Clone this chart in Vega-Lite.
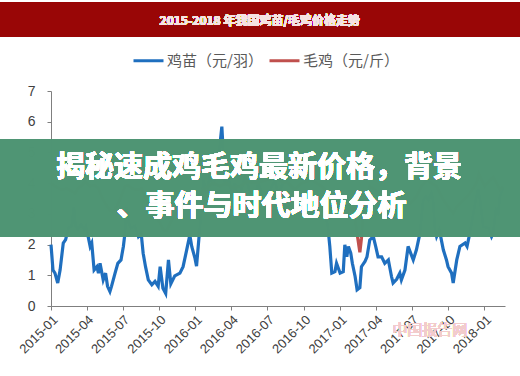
{
  "$schema": "https://vega.github.io/schema/vega-lite/v6.json",
  "width": 454,
  "height": 215,
  "autosize": {"type": "none"},
  "padding": {"left": 51, "top": 91, "right": 15, "bottom": 70},
  "background": "white",
  "config": {
    "font": "Noto Sans CJK SC",
    "view": {"stroke": null}
  },
  "data": {
    "values": [
      {"date": "2015-01-01", "series": "鸡苗（元/羽）", "price": 2.0},
      {"date": "2015-01-06", "series": "鸡苗（元/羽）", "price": 1.17},
      {"date": "2015-01-11", "series": "鸡苗（元/羽）", "price": 1.07},
      {"date": "2015-01-18", "series": "鸡苗（元/羽）", "price": 0.75},
      {"date": "2015-01-24", "series": "鸡苗（元/羽）", "price": 1.17},
      {"date": "2015-02-01", "series": "鸡苗（元/羽）", "price": 2.05},
      {"date": "2015-02-07", "series": "鸡苗（元/羽）", "price": 2.16},
      {"date": "2015-02-14", "series": "鸡苗（元/羽）", "price": 2.54},
      {"date": "2015-02-22", "series": "鸡苗（元/羽）", "price": 2.6},
      {"date": "2015-02-28", "series": "鸡苗（元/羽）", "price": 3.23},
      {"date": "2015-03-04", "series": "鸡苗（元/羽）", "price": 2.6},
      {"date": "2015-03-10", "series": "鸡苗（元/羽）", "price": 2.5},
      {"date": "2015-03-18", "series": "鸡苗（元/羽）", "price": 2.65},
      {"date": "2015-03-26", "series": "鸡苗（元/羽）", "price": 2.5},
      {"date": "2015-03-30", "series": "鸡苗（元/羽）", "price": 2.6},
      {"date": "2015-04-05", "series": "鸡苗（元/羽）", "price": 2.26},
      {"date": "2015-04-10", "series": "鸡苗（元/羽）", "price": 1.94},
      {"date": "2015-04-14", "series": "鸡苗（元/羽）", "price": 2.05},
      {"date": "2015-04-20", "series": "鸡苗（元/羽）", "price": 1.17},
      {"date": "2015-04-27", "series": "鸡苗（元/羽）", "price": 1.28},
      {"date": "2015-05-01", "series": "鸡苗（元/羽）", "price": 1.07},
      {"date": "2015-05-05", "series": "鸡苗（元/羽）", "price": 1.39},
      {"date": "2015-05-13", "series": "鸡苗（元/羽）", "price": 0.85},
      {"date": "2015-05-19", "series": "鸡苗（元/羽）", "price": 1.07},
      {"date": "2015-05-24", "series": "鸡苗（元/羽）", "price": 0.64},
      {"date": "2015-05-30", "series": "鸡苗（元/羽）", "price": 0.47},
      {"date": "2015-06-03", "series": "鸡苗（元/羽）", "price": 0.64},
      {"date": "2015-06-12", "series": "鸡苗（元/羽）", "price": 1.07},
      {"date": "2015-06-19", "series": "鸡苗（元/羽）", "price": 1.39},
      {"date": "2015-06-27", "series": "鸡苗（元/羽）", "price": 1.5},
      {"date": "2015-07-03", "series": "鸡苗（元/羽）", "price": 1.94},
      {"date": "2015-07-07", "series": "鸡苗（元/羽）", "price": 2.37},
      {"date": "2015-07-11", "series": "鸡苗（元/羽）", "price": 3.23},
      {"date": "2015-07-17", "series": "鸡苗（元/羽）", "price": 2.7},
      {"date": "2015-07-22", "series": "鸡苗（元/羽）", "price": 2.54},
      {"date": "2015-08-01", "series": "鸡苗（元/羽）", "price": 2.6},
      {"date": "2015-08-10", "series": "鸡苗（元/羽）", "price": 2.26},
      {"date": "2015-08-17", "series": "鸡苗（元/羽）", "price": 2.37},
      {"date": "2015-08-22", "series": "鸡苗（元/羽）", "price": 1.72},
      {"date": "2015-08-28", "series": "鸡苗（元/羽）", "price": 1.28},
      {"date": "2015-09-04", "series": "鸡苗（元/羽）", "price": 0.85},
      {"date": "2015-09-13", "series": "鸡苗（元/羽）", "price": 0.69},
      {"date": "2015-09-21", "series": "鸡苗（元/羽）", "price": 0.8},
      {"date": "2015-09-29", "series": "鸡苗（元/羽）", "price": 0.64},
      {"date": "2015-10-04", "series": "鸡苗（元/羽）", "price": 1.28},
      {"date": "2015-10-11", "series": "鸡苗（元/羽）", "price": 0.58},
      {"date": "2015-10-18", "series": "鸡苗（元/羽）", "price": 0.41},
      {"date": "2015-10-25", "series": "鸡苗（元/羽）", "price": 1.5},
      {"date": "2015-10-31", "series": "鸡苗（元/羽）", "price": 0.72},
      {"date": "2015-11-10", "series": "鸡苗（元/羽）", "price": 0.98},
      {"date": "2015-11-23", "series": "鸡苗（元/羽）", "price": 1.07},
      {"date": "2015-12-01", "series": "鸡苗（元/羽）", "price": 1.28},
      {"date": "2015-12-10", "series": "鸡苗（元/羽）", "price": 1.82},
      {"date": "2015-12-18", "series": "鸡苗（元/羽）", "price": 2.31},
      {"date": "2015-12-23", "series": "鸡苗（元/羽）", "price": 1.93},
      {"date": "2015-12-31", "series": "鸡苗（元/羽）", "price": 1.56},
      {"date": "2016-01-04", "series": "鸡苗（元/羽）", "price": 1.3},
      {"date": "2016-01-10", "series": "鸡苗（元/羽）", "price": 2.2},
      {"date": "2016-01-17", "series": "鸡苗（元/羽）", "price": 3.2},
      {"date": "2016-01-21", "series": "鸡苗（元/羽）", "price": 4.1},
      {"date": "2016-01-30", "series": "鸡苗（元/羽）", "price": 3.67},
      {"date": "2016-02-07", "series": "鸡苗（元/羽）", "price": 4.3},
      {"date": "2016-02-15", "series": "鸡苗（元/羽）", "price": 3.9},
      {"date": "2016-02-24", "series": "鸡苗（元/羽）", "price": 4.5},
      {"date": "2016-03-01", "series": "鸡苗（元/羽）", "price": 4.98},
      {"date": "2016-03-08", "series": "鸡苗（元/羽）", "price": 5.84},
      {"date": "2016-03-12", "series": "鸡苗（元/羽）", "price": 4.89},
      {"date": "2016-03-16", "series": "鸡苗（元/羽）", "price": 3.9},
      {"date": "2016-03-24", "series": "鸡苗（元/羽）", "price": 4.2},
      {"date": "2016-04-02", "series": "鸡苗（元/羽）", "price": 3.67},
      {"date": "2016-04-10", "series": "鸡苗（元/羽）", "price": 4.0},
      {"date": "2016-04-18", "series": "鸡苗（元/羽）", "price": 3.45},
      {"date": "2016-04-27", "series": "鸡苗（元/羽）", "price": 3.8},
      {"date": "2016-05-05", "series": "鸡苗（元/羽）", "price": 4.2},
      {"date": "2016-05-14", "series": "鸡苗（元/羽）", "price": 3.9},
      {"date": "2016-05-22", "series": "鸡苗（元/羽）", "price": 3.34},
      {"date": "2016-05-31", "series": "鸡苗（元/羽）", "price": 3.56},
      {"date": "2016-06-08", "series": "鸡苗（元/羽）", "price": 4.0},
      {"date": "2016-06-17", "series": "鸡苗（元/羽）", "price": 3.67},
      {"date": "2016-06-25", "series": "鸡苗（元/羽）", "price": 3.23},
      {"date": "2016-07-03", "series": "鸡苗（元/羽）", "price": 3.45},
      {"date": "2016-07-12", "series": "鸡苗（元/羽）", "price": 3.9},
      {"date": "2016-07-20", "series": "鸡苗（元/羽）", "price": 4.1},
      {"date": "2016-07-29", "series": "鸡苗（元/羽）", "price": 3.6},
      {"date": "2016-08-06", "series": "鸡苗（元/羽）", "price": 3.9},
      {"date": "2016-08-15", "series": "鸡苗（元/羽）", "price": 4.1},
      {"date": "2016-08-31", "series": "鸡苗（元/羽）", "price": 3.9},
      {"date": "2016-09-16", "series": "鸡苗（元/羽）", "price": 3.67},
      {"date": "2016-10-04", "series": "鸡苗（元/羽）", "price": 3.45},
      {"date": "2016-10-21", "series": "鸡苗（元/羽）", "price": 3.67},
      {"date": "2016-11-06", "series": "鸡苗（元/羽）", "price": 3.45},
      {"date": "2016-11-24", "series": "鸡苗（元/羽）", "price": 3.02},
      {"date": "2016-12-01", "series": "鸡苗（元/羽）", "price": 2.6},
      {"date": "2016-12-06", "series": "鸡苗（元/羽）", "price": 1.94},
      {"date": "2016-12-11", "series": "鸡苗（元/羽）", "price": 1.07},
      {"date": "2016-12-19", "series": "鸡苗（元/羽）", "price": 1.12},
      {"date": "2016-12-23", "series": "鸡苗（元/羽）", "price": 1.39},
      {"date": "2017-01-01", "series": "鸡苗（元/羽）", "price": 1.07},
      {"date": "2017-01-09", "series": "鸡苗（元/羽）", "price": 1.12},
      {"date": "2017-01-13", "series": "鸡苗（元/羽）", "price": 1.99},
      {"date": "2017-01-18", "series": "鸡苗（元/羽）", "price": 1.6},
      {"date": "2017-01-22", "series": "鸡苗（元/羽）", "price": 1.94},
      {"date": "2017-01-28", "series": "鸡苗（元/羽）", "price": 1.72},
      {"date": "2017-02-01", "series": "鸡苗（元/羽）", "price": 1.39},
      {"date": "2017-02-08", "series": "鸡苗（元/羽）", "price": 0.96},
      {"date": "2017-02-13", "series": "鸡苗（元/羽）", "price": 0.53},
      {"date": "2017-02-20", "series": "鸡苗（元/羽）", "price": 0.6},
      {"date": "2017-02-24", "series": "鸡苗（元/羽）", "price": 1.28},
      {"date": "2017-03-05", "series": "鸡苗（元/羽）", "price": 1.45},
      {"date": "2017-03-10", "series": "鸡苗（元/羽）", "price": 1.6},
      {"date": "2017-03-17", "series": "鸡苗（元/羽）", "price": 2.15},
      {"date": "2017-03-26", "series": "鸡苗（元/羽）", "price": 2.26},
      {"date": "2017-04-01", "series": "鸡苗（元/羽）", "price": 1.94},
      {"date": "2017-04-07", "series": "鸡苗（元/羽）", "price": 1.6},
      {"date": "2017-04-16", "series": "鸡苗（元/羽）", "price": 1.6},
      {"date": "2017-04-24", "series": "鸡苗（元/羽）", "price": 1.39},
      {"date": "2017-05-03", "series": "鸡苗（元/羽）", "price": 1.5},
      {"date": "2017-05-11", "series": "鸡苗（元/羽）", "price": 0.96},
      {"date": "2017-05-15", "series": "鸡苗（元/羽）", "price": 0.75},
      {"date": "2017-05-24", "series": "鸡苗（元/羽）", "price": 0.87},
      {"date": "2017-06-01", "series": "鸡苗（元/羽）", "price": 1.07},
      {"date": "2017-06-05", "series": "鸡苗（元/羽）", "price": 0.85},
      {"date": "2017-06-14", "series": "鸡苗（元/羽）", "price": 1.17},
      {"date": "2017-06-22", "series": "鸡苗（元/羽）", "price": 1.94},
      {"date": "2017-07-05", "series": "鸡苗（元/羽）", "price": 1.5},
      {"date": "2017-07-13", "series": "鸡苗（元/羽）", "price": 1.83},
      {"date": "2017-07-22", "series": "鸡苗（元/羽）", "price": 2.37},
      {"date": "2017-07-30", "series": "鸡苗（元/羽）", "price": 3.45},
      {"date": "2017-08-06", "series": "鸡苗（元/羽）", "price": 3.56},
      {"date": "2017-08-12", "series": "鸡苗（元/羽）", "price": 3.45},
      {"date": "2017-08-20", "series": "鸡苗（元/羽）", "price": 3.67},
      {"date": "2017-08-24", "series": "鸡苗（元/羽）", "price": 3.45},
      {"date": "2017-08-29", "series": "鸡苗（元/羽）", "price": 2.48},
      {"date": "2017-09-02", "series": "鸡苗（元/羽）", "price": 2.26},
      {"date": "2017-09-09", "series": "鸡苗（元/羽）", "price": 2.48},
      {"date": "2017-09-19", "series": "鸡苗（元/羽）", "price": 1.83},
      {"date": "2017-09-27", "series": "鸡苗（元/羽）", "price": 1.5},
      {"date": "2017-10-01", "series": "鸡苗（元/羽）", "price": 1.28},
      {"date": "2017-10-10", "series": "鸡苗（元/羽）", "price": 1.07},
      {"date": "2017-10-14", "series": "鸡苗（元/羽）", "price": 0.75},
      {"date": "2017-10-23", "series": "鸡苗（元/羽）", "price": 1.5},
      {"date": "2017-10-31", "series": "鸡苗（元/羽）", "price": 1.94},
      {"date": "2017-11-13", "series": "鸡苗（元/羽）", "price": 2.05},
      {"date": "2017-11-18", "series": "鸡苗（元/羽）", "price": 1.94},
      {"date": "2017-11-25", "series": "鸡苗（元/羽）", "price": 2.37},
      {"date": "2017-12-04", "series": "鸡苗（元/羽）", "price": 3.02},
      {"date": "2017-12-10", "series": "鸡苗（元/羽）", "price": 3.45},
      {"date": "2017-12-16", "series": "鸡苗（元/羽）", "price": 3.8},
      {"date": "2017-12-21", "series": "鸡苗（元/羽）", "price": 3.45},
      {"date": "2017-12-29", "series": "鸡苗（元/羽）", "price": 2.58},
      {"date": "2018-01-11", "series": "鸡苗（元/羽）", "price": 2.54},
      {"date": "2018-01-19", "series": "鸡苗（元/羽）", "price": 2.26},
      {"date": "2018-01-23", "series": "鸡苗（元/羽）", "price": 2.37},
      {"date": "2018-01-30", "series": "鸡苗（元/羽）", "price": 3.13},
      {"date": "2018-02-05", "series": "鸡苗（元/羽）", "price": 3.02},
      {"date": "2018-02-09", "series": "鸡苗（元/羽）", "price": 3.56},
      {"date": "2018-02-17", "series": "鸡苗（元/羽）", "price": 3.85},
      {"date": "2015-01-01", "series": "毛鸡（元/斤）", "price": 4.0},
      {"date": "2015-01-11", "series": "毛鸡（元/斤）", "price": 3.9},
      {"date": "2015-01-28", "series": "毛鸡（元/斤）", "price": 3.78},
      {"date": "2015-02-10", "series": "毛鸡（元/斤）", "price": 3.83},
      {"date": "2015-03-03", "series": "毛鸡（元/斤）", "price": 3.67},
      {"date": "2015-03-10", "series": "毛鸡（元/斤）", "price": 3.83},
      {"date": "2015-03-20", "series": "毛鸡（元/斤）", "price": 3.93},
      {"date": "2015-03-28", "series": "毛鸡（元/斤）", "price": 4.05},
      {"date": "2015-04-10", "series": "毛鸡（元/斤）", "price": 3.9},
      {"date": "2015-04-22", "series": "毛鸡（元/斤）", "price": 3.93},
      {"date": "2015-05-01", "series": "毛鸡（元/斤）", "price": 3.83},
      {"date": "2015-05-09", "series": "毛鸡（元/斤）", "price": 3.56},
      {"date": "2015-05-18", "series": "毛鸡（元/斤）", "price": 3.34},
      {"date": "2015-05-30", "series": "毛鸡（元/斤）", "price": 3.12},
      {"date": "2015-06-07", "series": "毛鸡（元/斤）", "price": 3.07},
      {"date": "2015-06-16", "series": "毛鸡（元/斤）", "price": 3.23},
      {"date": "2015-06-24", "series": "毛鸡（元/斤）", "price": 3.45},
      {"date": "2015-07-07", "series": "毛鸡（元/斤）", "price": 3.9},
      {"date": "2015-07-15", "series": "毛鸡（元/斤）", "price": 3.93},
      {"date": "2015-07-24", "series": "毛鸡（元/斤）", "price": 3.83},
      {"date": "2015-08-06", "series": "毛鸡（元/斤）", "price": 3.78},
      {"date": "2015-08-18", "series": "毛鸡（元/斤）", "price": 3.83},
      {"date": "2015-08-27", "series": "毛鸡（元/斤）", "price": 3.56},
      {"date": "2015-09-08", "series": "毛鸡（元/斤）", "price": 3.23},
      {"date": "2015-09-21", "series": "毛鸡（元/斤）", "price": 2.96},
      {"date": "2015-10-04", "series": "毛鸡（元/斤）", "price": 2.7},
      {"date": "2015-10-12", "series": "毛鸡（元/斤）", "price": 2.48},
      {"date": "2015-10-20", "series": "毛鸡（元/斤）", "price": 2.45},
      {"date": "2015-11-06", "series": "毛鸡（元/斤）", "price": 2.9},
      {"date": "2015-11-23", "series": "毛鸡（元/斤）", "price": 3.23},
      {"date": "2015-12-10", "series": "毛鸡（元/斤）", "price": 3.56},
      {"date": "2015-12-27", "series": "毛鸡（元/斤）", "price": 3.67},
      {"date": "2016-01-04", "series": "毛鸡（元/斤）", "price": 3.45},
      {"date": "2016-01-21", "series": "毛鸡（元/斤）", "price": 3.78},
      {"date": "2016-02-15", "series": "毛鸡（元/斤）", "price": 4.0},
      {"date": "2016-03-03", "series": "毛鸡（元/斤）", "price": 3.9},
      {"date": "2016-03-20", "series": "毛鸡（元/斤）", "price": 4.0},
      {"date": "2016-04-05", "series": "毛鸡（元/斤）", "price": 3.85},
      {"date": "2016-04-23", "series": "毛鸡（元/斤）", "price": 3.9},
      {"date": "2016-05-10", "series": "毛鸡（元/斤）", "price": 4.05},
      {"date": "2016-06-04", "series": "毛鸡（元/斤）", "price": 4.0},
      {"date": "2016-06-29", "series": "毛鸡（元/斤）", "price": 4.1},
      {"date": "2016-07-25", "series": "毛鸡（元/斤）", "price": 4.17},
      {"date": "2016-08-06", "series": "毛鸡（元/斤）", "price": 4.05},
      {"date": "2016-08-23", "series": "毛鸡（元/斤）", "price": 4.0},
      {"date": "2016-09-09", "series": "毛鸡（元/斤）", "price": 3.8},
      {"date": "2016-09-26", "series": "毛鸡（元/斤）", "price": 4.0},
      {"date": "2016-10-21", "series": "毛鸡（元/斤）", "price": 4.1},
      {"date": "2016-11-15", "series": "毛鸡（元/斤）", "price": 3.9},
      {"date": "2016-12-02", "series": "毛鸡（元/斤）", "price": 3.67},
      {"date": "2016-12-15", "series": "毛鸡（元/斤）", "price": 3.45},
      {"date": "2016-12-27", "series": "毛鸡（元/斤）", "price": 3.78},
      {"date": "2017-01-18", "series": "毛鸡（元/斤）", "price": 3.56},
      {"date": "2017-01-30", "series": "毛鸡（元/斤）", "price": 3.23},
      {"date": "2017-02-08", "series": "毛鸡（元/斤）", "price": 2.8},
      {"date": "2017-02-16", "series": "毛鸡（元/斤）", "price": 2.1},
      {"date": "2017-02-20", "series": "毛鸡（元/斤）", "price": 1.75},
      {"date": "2017-02-24", "series": "毛鸡（元/斤）", "price": 2.2},
      {"date": "2017-02-28", "series": "毛鸡（元/斤）", "price": 3.02},
      {"date": "2017-03-09", "series": "毛鸡（元/斤）", "price": 3.45},
      {"date": "2017-03-17", "series": "毛鸡（元/斤）", "price": 3.9},
      {"date": "2017-03-30", "series": "毛鸡（元/斤）", "price": 3.78},
      {"date": "2017-04-16", "series": "毛鸡（元/斤）", "price": 3.67},
      {"date": "2017-05-03", "series": "毛鸡（元/斤）", "price": 3.56},
      {"date": "2017-05-15", "series": "毛鸡（元/斤）", "price": 3.45},
      {"date": "2017-05-24", "series": "毛鸡（元/斤）", "price": 3.34},
      {"date": "2017-06-10", "series": "毛鸡（元/斤）", "price": 3.45},
      {"date": "2017-06-27", "series": "毛鸡（元/斤）", "price": 3.34},
      {"date": "2017-07-13", "series": "毛鸡（元/斤）", "price": 3.56},
      {"date": "2017-07-26", "series": "毛鸡（元/斤）", "price": 3.9},
      {"date": "2017-08-08", "series": "毛鸡（元/斤）", "price": 4.1},
      {"date": "2017-08-20", "series": "毛鸡（元/斤）", "price": 4.0},
      {"date": "2017-09-02", "series": "毛鸡（元/斤）", "price": 3.9},
      {"date": "2017-09-19", "series": "毛鸡（元/斤）", "price": 3.45},
      {"date": "2017-10-01", "series": "毛鸡（元/斤）", "price": 3.23},
      {"date": "2017-10-14", "series": "毛鸡（元/斤）", "price": 3.02},
      {"date": "2017-10-23", "series": "毛鸡（元/斤）", "price": 3.23},
      {"date": "2017-11-08", "series": "毛鸡（元/斤）", "price": 3.45},
      {"date": "2017-11-25", "series": "毛鸡（元/斤）", "price": 3.67},
      {"date": "2017-12-12", "series": "毛鸡（元/斤）", "price": 4.0},
      {"date": "2017-12-18", "series": "毛鸡（元/斤）", "price": 4.3},
      {"date": "2017-12-25", "series": "毛鸡（元/斤）", "price": 4.1},
      {"date": "2018-01-02", "series": "毛鸡（元/斤）", "price": 3.9},
      {"date": "2018-01-15", "series": "毛鸡（元/斤）", "price": 4.1},
      {"date": "2018-01-23", "series": "毛鸡（元/斤）", "price": 4.2},
      {"date": "2018-02-01", "series": "毛鸡（元/斤）", "price": 4.0},
      {"date": "2018-02-09", "series": "毛鸡（元/斤）", "price": 3.78},
      {"date": "2018-02-17", "series": "毛鸡（元/斤）", "price": 3.9}
    ]
  },
  "encoding": {
    "x": {
      "field": "date",
      "type": "temporal",
      "scale": {"domain": [{"year": 2015, "month": 1, "date": 1}, {"year": 2018, "month": 2, "date": 22}], "nice": false},
      "axis": {
        "title": null,
        "format": "%Y-%m",
        "values": [
          {"year": 2015, "month": 1, "date": 1}, {"year": 2015, "month": 4, "date": 1}, {"year": 2015, "month": 7, "date": 1}, {"year": 2015, "month": 10, "date": 1},
          {"year": 2016, "month": 1, "date": 1}, {"year": 2016, "month": 4, "date": 1}, {"year": 2016, "month": 7, "date": 1}, {"year": 2016, "month": 10, "date": 1},
          {"year": 2017, "month": 1, "date": 1}, {"year": 2017, "month": 4, "date": 1}, {"year": 2017, "month": 7, "date": 1}, {"year": 2017, "month": 10, "date": 1},
          {"year": 2018, "month": 1, "date": 1}
        ],
        "labelAngle": -45,
        "labelOverlap": false,
        "labelFontSize": 13,
        "labelColor": "#404040",
        "labelFont": "Liberation Sans",
        "domainColor": "#7f7f7f",
        "tickColor": "#7f7f7f",
        "tickSize": 4,
        "grid": false,
        "labelPadding": 3
      }
    },
    "y": {
      "field": "price",
      "type": "quantitative",
      "scale": {"domain": [0, 7], "nice": false},
      "axis": {
        "title": null,
        "values": [0, 1, 2, 3, 4, 5, 6, 7],
        "labelFontSize": 14,
        "labelColor": "#404040",
        "labelFont": "Liberation Sans",
        "domainColor": "#7f7f7f",
        "tickColor": "#7f7f7f",
        "tickSize": 4,
        "labelPadding": 12,
        "grid": false
      }
    }
  },
  "layer": [
    {
      "mark": {"type": "line", "strokeWidth": 3.2, "interpolate": "linear"},
      "encoding": {
        "color": {
          "field": "series",
          "type": "nominal",
          "scale": {"domain": ["鸡苗（元/羽）", "毛鸡（元/斤）"], "range": ["#1f6fbf", "#c0504d"]},
          "legend": {
            "title": null,
            "orient": "none",
            "direction": "horizontal",
            "legendX": 81,
            "legendY": -47,
            "symbolType": "stroke",
            "symbolSize": 900,
            "symbolStrokeWidth": 3,
            "labelFontSize": 15,
            "labelColor": "#595959",
            "labelOffset": 2,
            "columnPadding": 0
          }
        }
      }
    },
    {
      "mark": {"type": "rect", "fill": "#4f9474", "opacity": 0.76},
      "encoding": {
        "x": {"datum": {"year": 2014, "month": 8, "date": 1}, "type": "temporal"},
        "x2": {"datum": {"year": 2018, "month": 5, "date": 1}},
        "y": {"datum": 5.44, "type": "quantitative"},
        "y2": {"datum": 2.25}
      }
    },
    {
      "mark": {"type": "text", "color": "white", "fontSize": 29, "fontWeight": "bold", "align": "center", "baseline": "middle", "font": "Noto Sans CJK SC"},
      "encoding": {
        "x": {"datum": {"year": 2016, "month": 6, "date": 10}, "type": "temporal"},
        "y": {"datum": 4.49, "type": "quantitative"},
        "text": {"value": "揭秘速成鸡毛鸡最新价格，背景"}
      }
    },
    {
      "mark": {"type": "text", "color": "white", "fontSize": 29, "fontWeight": "bold", "align": "center", "baseline": "middle", "font": "Noto Sans CJK SC"},
      "encoding": {
        "x": {"datum": {"year": 2016, "month": 6, "date": 16}, "type": "temporal"},
        "y": {"datum": 3.22, "type": "quantitative"},
        "text": {"value": "、事件与时代地位分析"}
      }
    },
    {
      "mark": {"type": "rect", "fill": "#990606"},
      "encoding": {
        "x": {"datum": {"year": 2014, "month": 8, "date": 1}, "type": "temporal"},
        "x2": {"datum": {"year": 2018, "month": 5, "date": 1}},
        "y": {"datum": 9.87, "type": "quantitative"},
        "y2": {"datum": 8.76}
      }
    },
    {
      "mark": {"type": "text", "color": "#f7e3e3", "fontSize": 12, "fontWeight": "bold", "align": "center", "baseline": "middle", "font": "Noto Sans CJK SC"},
      "encoding": {
        "x": {"datum": {"year": 2016, "month": 6, "date": 12}, "type": "temporal"},
        "y": {"datum": 9.28, "type": "quantitative"},
        "text": {"value": "2015-2018 年我国鸡苗/毛鸡价格走势"}
      }
    },
    {
      "mark": {"type": "text", "fill": "#f2cccc", "fontSize": 15, "fontWeight": "normal", "align": "center", "baseline": "middle", "font": "Noto Sans CJK SC"},
      "encoding": {
        "x": {"datum": {"year": 2017, "month": 8, "date": 16}, "type": "temporal"},
        "y": {"datum": -0.78, "type": "quantitative"},
        "text": {"value": "中国报告网"}
      }
    }
  ]
}
